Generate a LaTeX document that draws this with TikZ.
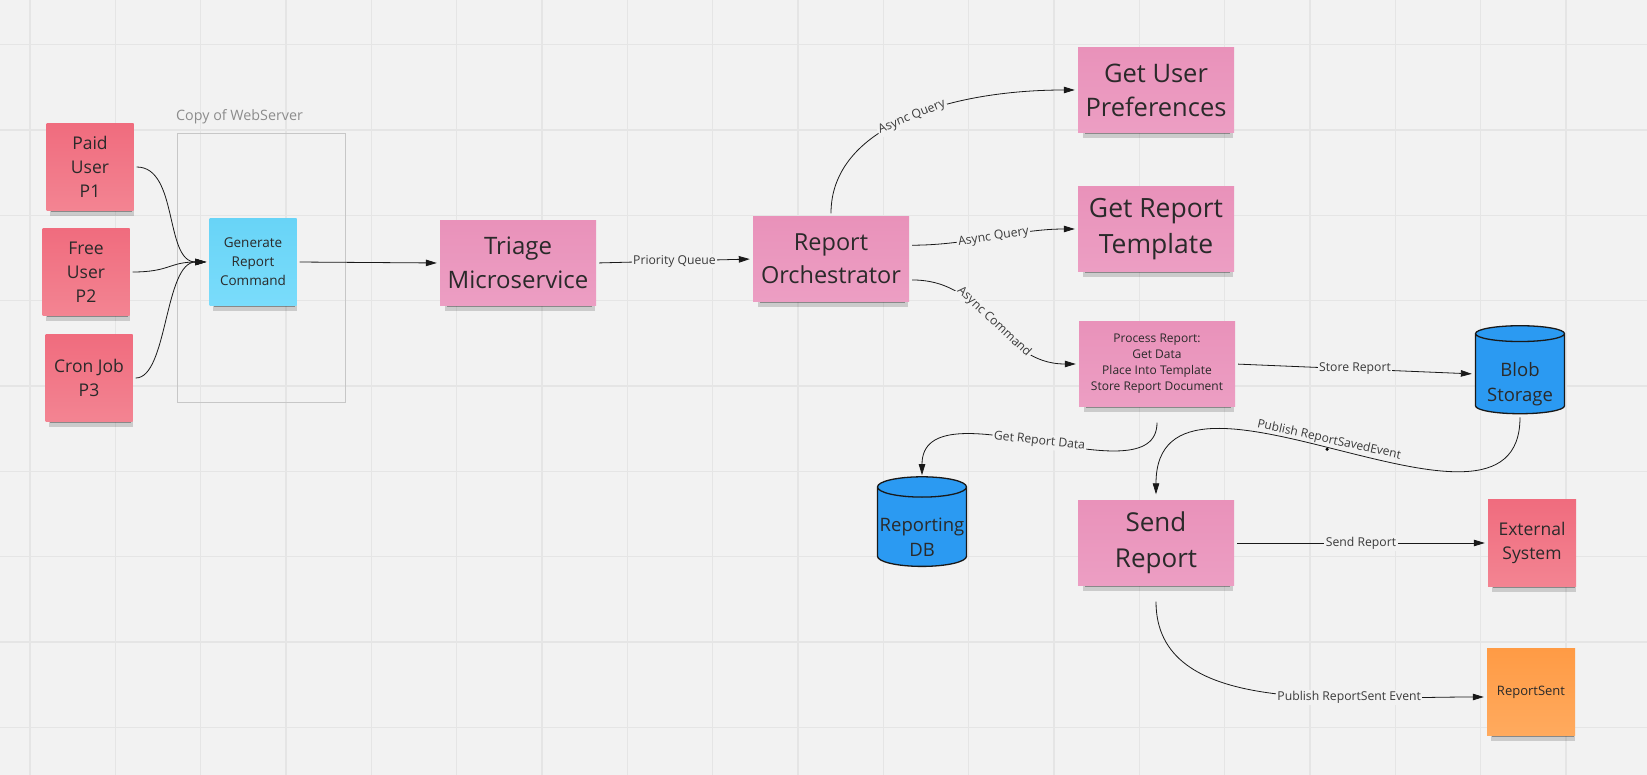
\documentclass[tikz,border=0pt]{standalone}
\usepackage{fontspec}
\setmainfont{Open Sans}
\usepackage{xcolor}
\usepackage{tikz}
\usetikzlibrary{arrows.meta,shapes.geometric,shadows}
\definecolor{boardbg}{HTML}{F2F2F2}
\definecolor{gridline}{HTML}{E5E5E5}
\definecolor{notepink}{HTML}{E992BA}
\definecolor{notepinklt}{HTML}{EC9EC3}
\definecolor{notered}{HTML}{F06C7E}
\definecolor{noteredlt}{HTML}{F38492}
\definecolor{noteblue}{HTML}{68D4F7}
\definecolor{notebluelt}{HTML}{7ADCFB}
\definecolor{noteorange}{HTML}{FF9B45}
\definecolor{noteorangelt}{HTML}{FFAA5E}
\definecolor{dbblue}{HTML}{2B9AF2}
\definecolor{inktext}{HTML}{2A2A2A}
\definecolor{labeltext}{HTML}{3A3A3A}
\newcommand{\fsz}[2]{\fontsize{#1}{#2}\selectfont}
\newcommand{\dropline}{\rule{0pt}{34pt}}

\begin{document}
\begin{tikzpicture}[x=1pt,y=-1pt,
  sticky/.style={rectangle, inner sep=0pt, align=center, text=inktext,
    general shadow={shadow scale=0.96, shadow xshift=2pt, shadow yshift=-8pt,
      fill=black, opacity=0.16},
    general shadow={shadow scale=0.93, shadow xshift=2pt, shadow yshift=-5pt,
      fill=black, opacity=0.32}},
  pinknote/.style={sticky, top color=notepink, bottom color=notepinklt,
    minimum width=156pt, minimum height=85pt, font=\fsz{24}{34}},
  rednote/.style={sticky, top color=notered, bottom color=noteredlt,
    minimum width=87pt, minimum height=87pt, font=\fsz{17.5}{24}},
  bluenote/.style={sticky, top color=noteblue, bottom color=notebluelt,
    minimum width=87pt, minimum height=87pt, font=\fsz{13.5}{19}},
  orangenote/.style={sticky, top color=noteorange, bottom color=noteorangelt,
    minimum width=88pt, minimum height=87pt, font=\fsz{13}{16}},
  dbcyl/.style={cylinder, shape border rotate=90, aspect=0.24, draw=black!90,
    line width=1.3pt, fill=dbblue, minimum width=89pt, minimum height=88pt,
    inner sep=0pt, align=center, text=inktext, font=\fsz{18.5}{24.5}},
  flow/.style={-{Triangle[length=11pt,width=6.5pt]}, line width=0.8pt,
    draw=black!90, shorten >=3pt, shorten <=3pt},
  flowlabel/.style={fill=boardbg, inner sep=1.5pt, text=labeltext,
    font=\fsz{12.2}{14}},
  dotmark/.style={circle, fill=black, inner sep=0pt, minimum size=3.5pt}]
  \useasboundingbox (0,0) rectangle (1647,775);
  \fill[boardbg] (0,0) rectangle (1647,775);
  % Board grid
  \foreach \gx in {0,...,19}
    \draw[gridline, line width=1.2pt] ({30+85.33*\gx},0) -- ++(0,775);
  \foreach \gy in {0,...,9}
    \draw[gridline, line width=1.2pt] (0,{44.7+85.33*\gy}) -- ++(1647,0);

  % Web server frame
  \draw[black!22, line width=0.8pt] (177,133) rectangle (345,402);
  \node[anchor=west, inner sep=0pt, text=black!45, font=\fsz{14.3}{17}]
    (weblabel) at (176,117) {Copy of WebServer};

  % Callers
  \node[rednote] (p1) at (90,167) {Paid\\User\\P1};
  \node[rednote] (p2) at (86,272) {Free\\User\\P2};
  \node[rednote] (p3) at (89,378) {Cron Job\\P3};
  \node[bluenote] (gen) at (253,262) {Generate\\Report\\Command};

  % Services
  \node[pinknote] (triage) at (518,263) {Triage\\Microservice};
  \node[pinknote, font=\fsz{23.5}{33}] (orch) at (831,259) {Report\\Orchestrator};
  \node[pinknote, font=\fsz{25.5}{34}] (prefs) at (1156,90) {Get User\\Preferences};
  \node[pinknote, font=\fsz{26.5}{36}] (template) at (1156,229) {Get Report\\Template};
  \node[pinknote, font=\fsz{12}{16}] (process) at (1157,364)
    {Process Report:\\Get Data\\Place Into Template\\Store Report Document};
  \node[pinknote, font=\fsz{26}{36}] (send) at (1156,543) {Send\\Report};

  % Stores and outputs
  \node[dbcyl] (blob) at (1520,374) {\dropline Blob\\Storage};
  \node[dbcyl] (db) at (922,527) {\dropline Reporting\\DB};
  \node[rednote, minimum width=88pt] (ext) at (1532,543) {External\\System};
  \node[orangenote] (rsent) at (1531,692) {ReportSent};

  % Connectors
  \draw[flow] (p1.east) .. controls +(45,0) and +(-45,0) .. (gen.west);
  \draw[flow] (p2.east) .. controls +(40,0) and +(-40,0) .. (gen.west);
  \draw[flow] (p3.east) .. controls +(35,0) and +(-45,0) .. (gen.west);
  \draw[flow] (gen.east) -- (triage.west);
  \draw[flow] (triage.east) -- node[flowlabel] {Priority Queue} (orch.west);
  \draw[flow] (orch.north) .. controls +(0,-90) and +(-128,0) ..
    node[flowlabel, sloped, pos=0.52] {Async Query} (prefs.west);
  \draw[flow] (orch.10) .. controls +(60,0) and +(-60,0) ..
    node[flowlabel, sloped] {Async Query} (template.west);
  \draw[flow] (orch.-15) .. controls +(80,0) and +(-80,0) ..
    node[flowlabel, sloped] {Async Command} (process.west);
  \draw[flow] (process.east) -- node[flowlabel] {Store Report} (blob.west);
  \draw[flow, shorten <=16pt, shorten >=1pt] (process.south)
    .. controls +(0,95) and +(0,-95) ..
    node[flowlabel, sloped] {Get Report Data} (db.north);
  \draw[flow, shorten >=6pt] (blob.south) .. controls +(0,160) and +(0,-175) ..
    node[dotmark, pos=0.52] {}
    node[sloped, above, pos=0.52, inner sep=3pt, text=labeltext,
      font=\fsz{12}{14}] {Publish ReportSavedEvent} (send.north);
  \draw[flow] (send.east) -- node[flowlabel] {Send Report} (ext.west);
  \draw[flow, shorten <=16pt] (send.south) .. controls +(0,130) and +(-150,0) ..
    node[flowlabel, pos=0.7] {Publish ReportSent Event} ([yshift=-5pt]rsent.west);
\end{tikzpicture}
\end{document}
